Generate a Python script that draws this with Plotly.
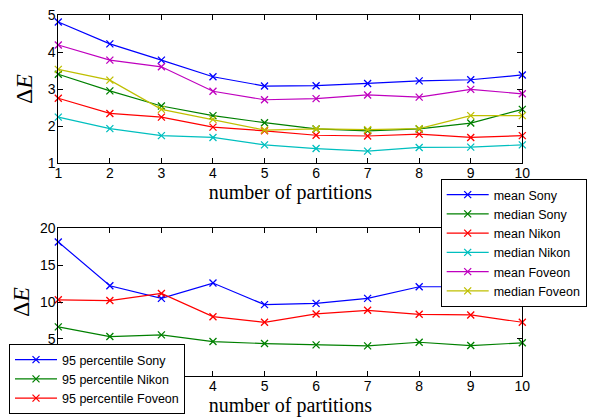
import plotly.graph_objects as go

partitions = [1, 2, 3, 4, 5, 6, 7, 8, 9, 10]

mean_sony = [4.81, 4.22, 3.78, 3.33, 3.08, 3.09, 3.15, 3.22, 3.25, 3.38]
median_sony = [3.40, 2.95, 2.54, 2.28, 2.09, 1.92, 1.87, 1.92, 2.08, 2.45]
mean_nikon = [2.75, 2.34, 2.24, 1.97, 1.87, 1.75, 1.73, 1.78, 1.69, 1.74]
median_nikon = [2.24, 1.93, 1.74, 1.69, 1.49, 1.39, 1.32, 1.42, 1.43, 1.49]
mean_foveon = [4.19, 3.78, 3.60, 2.94, 2.71, 2.74, 2.84, 2.78, 2.99, 2.87]
median_foveon = [3.53, 3.24, 2.45, 2.18, 1.89, 1.92, 1.90, 1.93, 2.28, 2.28]

p95_sony = [18.15, 12.2, 10.49, 12.57, 9.64, 9.81, 10.49, 12.07, 12.07, 11.8]
p95_nikon = [6.62, 5.31, 5.54, 4.63, 4.36, 4.18, 4.05, 4.54, 4.09, 4.46]
p95_foveon = [10.3, 10.2, 11.16, 8.01, 7.25, 8.38, 8.87, 8.33, 8.24, 7.25]

top_series = [
    ("mean Sony", mean_sony, "#0000ff"),
    ("median Sony", median_sony, "#008000"),
    ("mean Nikon", mean_nikon, "#ff0000"),
    ("median Nikon", median_nikon, "#00bfbf"),
    ("mean Foveon", mean_foveon, "#bf00bf"),
    ("median Foveon", median_foveon, "#bfbf00"),
]
bottom_series = [
    ("95 percentile Sony", p95_sony, "#0000ff"),
    ("95 percentile Nikon", p95_nikon, "#008000"),
    ("95 percentile Foveon", p95_foveon, "#ff0000"),
]

fig = go.Figure()

def add(name, vals, color, xa, ya, legend):
    fig.add_trace(go.Scatter(
        x=partitions, y=vals, name=name, mode="lines+markers",
        line=dict(color=color, width=1.2),
        marker=dict(symbol="x-thin", size=7, line=dict(color=color, width=1.3), color=color),
        xaxis=xa, yaxis=ya, legend=legend, cliponaxis=False,
    ))

for n, v, c in top_series:
    add(n, v, c, "x", "y", "legend")
for n, v, c in bottom_series:
    add(n, v, c, "x2", "y2", "legend2")

# figure is drawn inside the page body (8px default margin)
W, H = 589, 412
OFF = 8

def px(v):
    return (v - OFF) / W

def py(v):
    return 1 - (v - OFF) / H

sans = "Liberation Sans, Arial, sans-serif"
tickfont = dict(family=sans, size=14, color="black")
serif_x = dict(family="Liberation Serif, DejaVu Serif, serif", size=20, color="black")
serif_y = dict(family="Liberation Serif, DejaVu Serif, serif", size=24, color="black")

axis_common = dict(showline=True, linecolor="black", linewidth=1, mirror="ticks",
                   ticks="inside", ticklen=5, tickcolor="black", showgrid=False,
                   zeroline=False, tickfont=tickfont, automargin=False,
                   ticklabeloverflow="allow")

xd = [px(58.3), px(522.3)]
fig.update_layout(
    width=W, height=H,
    margin=dict(l=0, r=0, t=0, b=0),
    paper_bgcolor="white", plot_bgcolor="white",
    xaxis=dict(domain=xd, range=[1, 10], tickvals=partitions, anchor="y", ticklabelstandoff=-3,
               title=dict(text="number of partitions", font=serif_x, standoff=0), **axis_common),
    yaxis=dict(domain=[py(163), py(15)], range=[1, 5], tickvals=[1, 2, 3, 4, 5], anchor="x",
               ticklabelstandoff=-1,
               title=dict(text="Δ<i>E</i>", font=serif_y, standoff=8), **axis_common),
    xaxis2=dict(domain=xd, range=[1, 10], tickvals=partitions, anchor="y2", ticklabelstandoff=-3,
                title=dict(text="number of partitions", font=serif_x, standoff=0), **axis_common),
    yaxis2=dict(domain=[py(375.7), py(228.3)], range=[0, 20], tickvals=[0, 5, 10, 15, 20], anchor="x2",
                ticklabelstandoff=-1,
                title=dict(text="Δ<i>E</i>", font=serif_y, standoff=8), **axis_common),
    legend=dict(x=px(440.7), y=py(179), xanchor="left", yanchor="top",
                bgcolor="white", bordercolor="black", borderwidth=1,
                font=dict(family=sans, size=12.5, color="black"),
                tracegroupgap=0, itemwidth=42),
    legend2=dict(x=px(9), y=py(414), xanchor="left", yanchor="bottom",
                 bgcolor="white", bordercolor="black", borderwidth=1,
                 font=dict(family=sans, size=12.5, color="black"),
                 tracegroupgap=0, itemwidth=42),
    showlegend=True,
)

fig.write_html("out.html")
